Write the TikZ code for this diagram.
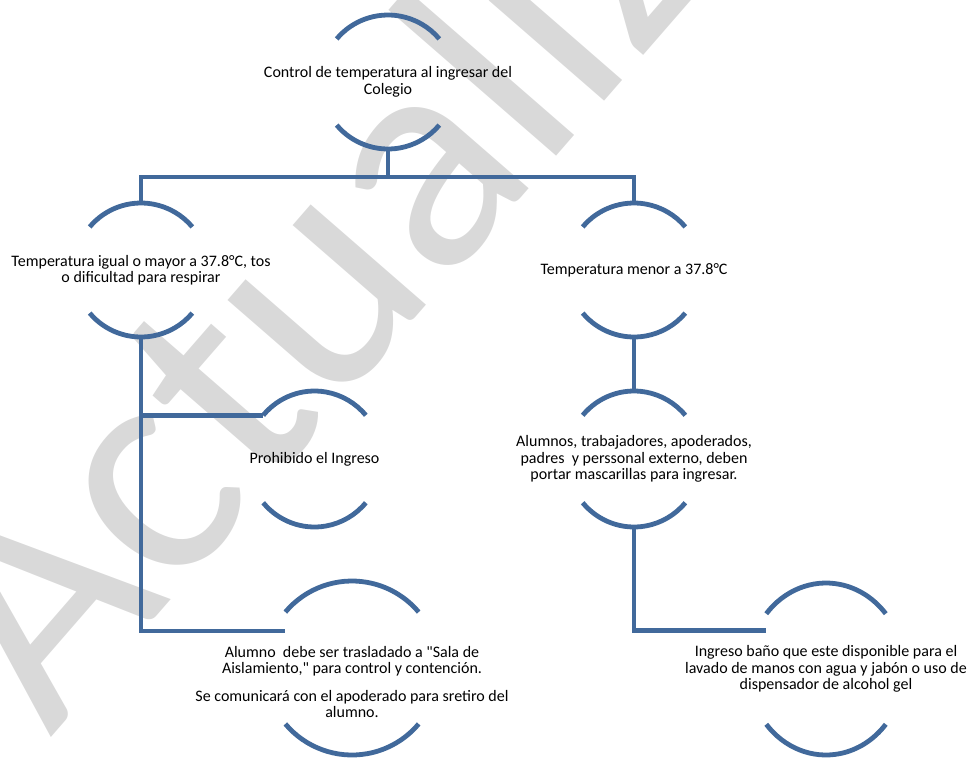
\documentclass[tikz,border=0pt]{standalone}
\usepackage{fontspec}
\setmainfont{Carlito}[Ligatures=TeXOff]
\usetikzlibrary{calc}
\definecolor{flowblue}{RGB}{65,105,155}
% top and bottom arcs round a node: (name)(x radius:y radius:drop of ring centre)
\def\ringarcs(#1)(#2:#3:#4){%
	\coordinate (#1-c) at ([yshift=#4]#1.center);
	\draw[ring] ([shift={(140:#2 and #3)}]#1-c) arc[start angle=140, end angle=40, x radius=#2, y radius=#3];
	\draw[ring] ([shift={(220:#2 and #3)}]#1-c) arc[start angle=220, end angle=320, x radius=#2, y radius=#3];
	\coordinate (#1-n) at ([yshift=#3]#1-c);
	\coordinate (#1-s) at ([yshift=-#3]#1-c);
	\coordinate (#1-nw) at ([shift={(140:#2 and #3)}]#1-c);
}

\begin{document}
\begin{tikzpicture}[x=1pt, y=1pt,
		ring/.style={line width=4.8, color=flowblue},
		link/.style={line width=4.5, color=flowblue},
		txt/.style={align=center, inner sep=0, font=\fontsize{16}{16.5}\selectfont},
		wmark/.style={inner sep=0, color=black!15, font=\fontsize{320}{320}\selectfont}]
			%%%%% START %%%%%
			\useasboundingbox (0, 0) rectangle (971, -758);
			\clip (0, 0) rectangle (971, -758);
			
			\node[wmark, rotate=49, anchor=base west] (wm) at (50, -739) {Actualiz};
			
			\node[txt] (top) at (388, -82) {Control de temperatura al ingresar del\\Colegio};
			\ringarcs(top)(67:67:0)
			
			\node[txt] (warm) at (141, -270) {Temperatura igual o mayor a 37.8°C, tos\\o dificultad para respirar};
			\ringarcs(warm)(67:67:0)
			
			\node[txt] (cool) at (634, -270) {Temperatura menor a 37.8°C};
			\ringarcs(cool)(67:67:0)
			
			\node[txt] (stop) at (314.5, -459) {Prohibido el Ingreso};
			\ringarcs(stop)(67:68:0)
			
			\node[txt] (mask) at (634, -459) {Alumnos, trabajadores, apoderados,\\padres~ y perssonal externo, deben\\portar mascarillas para ingresar.};
			\ringarcs(mask)(67:68:0)
			
			\node[txt] (isolate) at (352, -682) {Alumno~ debe ser trasladado a "Sala de\\Aislamiento," para control y contención.\\[11pt]Se comunicará con el apoderado para sretiro del\\alumno.};
			\ringarcs(isolate)(87:87:14)
			
			\node[txt] (wash) at (826, -669) {Ingreso baño que este disponible para el\\lavado de manos con agua y jabón o uso de\\dispensador de alcohol gel};
			\ringarcs(wash)(78:86:0)
			
			\coordinate (fork) at (388, -177);
			\draw[link] (top-s) -- (fork);
			\draw[link] (warm-n) |- (fork) -| (cool-n);
			
			\draw[link] (warm-s) |- (stop-nw);
			\draw[link] (warm-s) |- ([yshift=-19]isolate-nw);
			
			\draw[link] (cool-s) -- (mask-n);
			\draw[link] (mask-s) |- ([yshift=-17]wash-nw);
			%%%%% END %%%%%
\end{tikzpicture}
\end{document}
